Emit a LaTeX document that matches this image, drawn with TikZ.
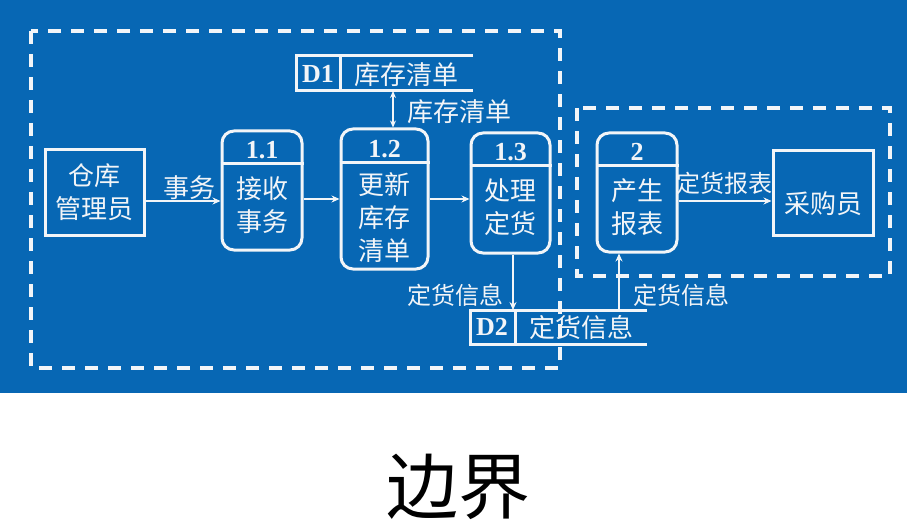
\documentclass[tikz,border=0pt]{standalone}
\usepackage{fontspec}
\usepackage{xcolor}
\usetikzlibrary{arrows.meta}
\newfontfamily\cjk{Noto Sans CJK SC}
\newfontfamily\numfont{Liberation Serif}
\definecolor{panelblue}{HTML}{0767B4}
\definecolor{boundline}{HTML}{F2F5F8}

\begin{document}
\begin{tikzpicture}[
  x=1pt,
  y=-1pt,
  every node/.style={font=\cjk\fontsize{26}{33}\selectfont, text=boundline,
    inner sep=0pt, align=center},
  entity/.style={draw=boundline, line width=3pt, minimum width=99pt,
    minimum height=85pt},
  proc/.style={draw=boundline, line width=3pt, rounded corners=12pt},
  num/.style={font=\numfont\bfseries\fontsize{26}{26}\selectfont},
  label/.style={font=\cjk\fontsize{24}{24}\selectfont},
  flow/.style={boundline, line width=2.4pt, -{Stealth[length=8pt, width=7pt]}},
  store/.style={boundline, line width=3pt},
  boundary/.style={boundline, line width=4pt, dash pattern=on 13pt off 10pt}
]
  \useasboundingbox (0,0) rectangle (909,521);
  \fill[panelblue] (0,0) rectangle (907,393);

  % ================= boundaries =========================================
  \draw[boundary] (31,31) rectangle (560,368);
  \draw[boundary] (577,108) rectangle (890,276);

  % ================= external entities ==================================
  \node[entity] (mgr) at (94.5,192.5) {仓库\\管理员};
  \node[entity, minimum width=100pt] (buyer) at (823,193) {};
  \node (tbuyer) at (823,204) {采购员};

  % ================= processes ==========================================
  \node[proc, minimum width=80pt, minimum height=119pt] (p11) at (262,190.5) {};
  \node[proc, minimum width=87pt, minimum height=140pt] (p12) at (384.5,199) {};
  \node[proc, minimum width=79pt, minimum height=120pt] (p13) at (510.5,193) {};
  \node[proc, minimum width=80pt, minimum height=119pt] (p2) at (637,192.5) {};

  \draw[store] (p11.west |- 0,164) -- (p11.east |- 0,164);
  \draw[store] (p12.west |- 0,163) -- (p12.east |- 0,163);
  \draw[store] (p13.west |- 0,166) -- (p13.east |- 0,166);
  \draw[store] (p2.west |- 0,166) -- (p2.east |- 0,166);

  \node[num] (n11) at (262,150) {1.1};
  \node[num] (n12) at (384.5,149) {1.2};
  \node[num] (n13) at (510.5,152) {1.3};
  \node[num] (n2) at (637,152) {2};

  \node (t11) at (262,205) {接收\\事务};
  \node (t12) at (384.5,218) {更新\\库存\\清单};
  \node (t13) at (510.5,207) {处理\\定货};
  \node (t2) at (637,207) {产生\\报表};

  % ================= data stores ========================================
  \draw[store] (473,56) -- (296,56) -- (296,91) -- (473,91);
  \draw[store] (340,56) -- (340,91);
  \node[num] (d1id) at (318,74) {D1};
  \node (d1) at (406,75) {库存清单};
  \coordinate (d1b) at (393,91);

  \draw[store] (647,310) -- (470,310) -- (470,344) -- (647,344);
  \draw[store] (515,310) -- (515,344);
  \node[num] (d2id) at (492,327) {D2};
  \node (d2) at (581,328) {定货信息};
  \coordinate (d2in) at (513,310);
  \coordinate (d2out) at (619,310);

  % ================= flows ==============================================
  \draw[flow] ([yshift=-8.5pt]mgr.east) -- ([yshift=-8.5pt]mgr.east -| p11.west);
  \node (f1) at (189,188) {事务};

  \draw[flow] (p11.east |- p12.west) -- (p12.west);
  \draw[flow] (p12.east) -- (p12.east -| p13.west);

  \draw[flow, {Stealth[length=7pt, width=6pt]}-{Stealth[length=7pt, width=6pt]}]
    (d1b) -- (d1b |- p12.north);
  \node (f2) at (459,112) {库存清单};

  \draw[flow] (d2in |- p13.south) -- (d2in);
  \node[label] (f3) at (455,295) {定货信息};

  \draw[flow] (d2out) -- (d2out |- p2.south);
  \node[label] (f4) at (681,295) {定货信息};

  \draw[flow] ([yshift=-8pt]buyer.west -| p2.east) -- ([yshift=-8pt]buyer.west);
  \node[label] (f5) at (724,183) {定货报表};

  % ================= caption ============================================
  \node[font=\cjk\fontsize{72}{72}\selectfont, text=black] (cap) at (458,487) {边界};
\end{tikzpicture}
\end{document}
